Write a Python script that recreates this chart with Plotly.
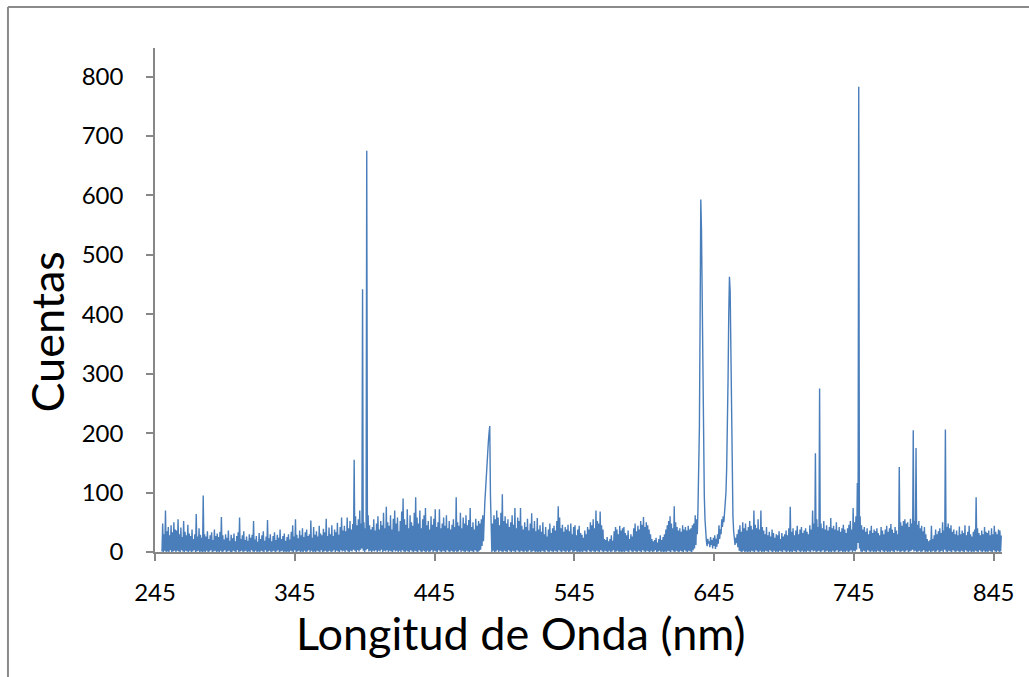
import plotly.graph_objects as go

# ---------------- data ----------------
wl_start = 250.0      # first wavelength sample (nm)
wl_step = 0.5         # sample spacing (nm)

# counts, two samples per nm, 10 nm per row
counts = [
    1,48, 0,30, 2,70, 0,35, 1,42, 0,28, 3,45, 0,33, 1,50, 2,38,          # 250
    0,36, 2,55, 1,30, 0,41, 3,25, 1,52, 0,34, 2,28, 1,46, 0,31,          # 260
    2,27, 0,38, 1,22, 3,30, 0,64, 1,26, 2,40, 0,29, 1,24, 0,95,          # 270
    1,30, 0,26, 2,35, 0,22, 1,28, 3,33, 0,20, 1,38, 2,27, 0,31,          # 280
    1,25, 0,34, 2,59, 0,28, 1,21, 3,30, 0,24, 1,36, 2,19, 0,29,          # 290
    0,23, 2,31, 1,18, 0,27, 3,33, 0,58, 1,22, 2,28, 0,35, 1,20,          # 300
    2,26, 0,19, 1,30, 0,24, 3,29, 1,52, 0,21, 2,27, 0,17, 1,32,          # 310
    0,22, 2,28, 1,35, 0,19, 3,26, 0,54, 1,23, 2,30, 0,18, 1,27,          # 320
    2,33, 0,20, 1,29, 3,24, 0,38, 1,22, 2,27, 0,31, 1,19, 0,25,          # 330
    1,30, 0,21, 2,34, 1,45, 0,26, 3,55, 0,29, 1,23, 2,36, 0,28,          # 340
    1,40, 0,25, 2,33, 0,38, 1,27, 3,30, 0,53, 2,24, 0,42, 1,29,          # 350
    0,35, 2,26, 1,44, 0,31, 3,28, 0,39, 1,33, 2,56, 0,27, 1,41,          # 360
    2,30, 0,45, 1,27, 3,38, 0,33, 2,49, 1,29, 0,42, 3,58, 1,36,          # 370
    2,44, 0,35, 3,58, 1,40, 0,52, 2,38, 1,47, 4,155, 2,60, 0,45,         # 380
    3,55, 1,70, 4,48, 6,442, 2,50, 0,40, 3,675, 5,62, 1,45, 2,38,        # 390
    0,42, 2,55, 1,36, 3,48, 0,60, 2,38, 1,52, 4,45, 0,66, 2,40,          # 400
    1,76, 3,50, 0,44, 2,62, 1,38, 0,56, 3,70, 1,48, 2,58, 0,35,          # 410
    2,52, 0,68, 3,90, 1,55, 0,46, 2,72, 1,40, 0,62, 3,50, 1,44,          # 420
    0,66, 2,92, 1,58, 0,48, 3,70, 1,40, 0,55, 2,62, 1,74, 0,45,          # 430
    2,52, 0,38, 1,60, 3,46, 0,56, 2,72, 1,42, 0,50, 3,72, 1,40,          # 440
    0,48, 2,58, 1,44, 0,62, 3,40, 1,52, 0,38, 2,46, 1,55, 0,42,          # 450
    2,92, 0,50, 1,44, 3,66, 0,40, 2,58, 1,48, 0,62, 2,45, 1,54,          # 460
    0,74, 2,42, 1,50, 0,38, 3,56, 1,44, 0,52, 2,48, 4,55, 10,62,         # 470
    18,70, 85,104, 130,155, 170,185, 200,212, 95,30, 0,48, 2,62, 0,55, 1,70,  # 480
    3,58, 0,45, 2,66, 1,97, 0,52, 2,60, 1,48, 0,55, 3,42, 1,50,          # 490
    0,62, 2,46, 1,74, 0,40, 3,58, 1,52, 0,74, 2,44, 1,38, 0,50,          # 500
    2,42, 0,56, 1,36, 3,48, 0,65, 1,40, 2,52, 0,35, 1,57, 0,38,          # 510
    1,45, 0,34, 2,50, 1,30, 0,42, 3,26, 1,38, 0,48, 2,32, 1,40,          # 520
    0,44, 2,36, 1,52, 0,77, 3,58, 1,40, 0,46, 2,34, 1,42, 0,38,          # 530
    2,46, 0,35, 1,48, 3,30, 0,42, 1,45, 2,28, 0,38, 1,44, 0,32,          # 540
    1,29, 0,24, 2,36, 1,30, 0,42, 3,38, 1,50, 0,45, 2,55, 1,40,          # 550
    0,70, 2,52, 1,48, 0,68, 3,45, 1,38, 0,22, 2,20, 1,25, 0,18,          # 560
    2,22, 0,28, 1,19, 3,35, 0,42, 1,38, 2,30, 0,44, 1,36, 0,40,          # 570
    1,42, 0,32, 2,28, 1,36, 0,22, 3,30, 1,26, 0,40, 2,48, 1,35,          # 580
    0,44, 2,38, 1,52, 0,46, 3,59, 1,42, 0,50, 2,45, 1,38, 0,30,          # 590
    2,22, 0,18, 1,20, 3,24, 0,16, 1,22, 2,28, 0,20, 1,25, 0,30,          # 600
    1,38, 0,45, 2,52, 1,60, 0,48, 3,40, 1,77, 0,50, 2,42, 1,36,          # 610
    0,40, 2,34, 1,45, 0,38, 3,42, 1,36, 0,44, 2,38, 1,40, 0,45,          # 620
    3,48, 6,62, 12,55, 30,75, 120,210, 390,593, 540,400, 260,160, 95,55, 30,18,  # 630
    10,22, 14,18, 8,25, 12,20, 6,24, 10,28, 5,22, 9,30, 14,45, 22,38,    # 640
    30,55, 42,60, 50,65, 70,100, 140,200, 290,400, 463,440, 330,200, 110,60, 35,20,  # 650
    12,24, 15,30, 8,38, 2,45, 1,34, 0,50, 2,40, 0,48, 1,36, 0,42,        # 660
    1,52, 0,44, 2,38, 1,70, 0,46, 3,40, 1,55, 0,38, 2,70, 0,42,          # 670
    1,36, 0,30, 2,42, 1,28, 0,34, 3,26, 1,38, 0,32, 2,24, 0,30,          # 680
    1,28, 0,35, 2,22, 1,32, 0,26, 3,30, 1,36, 0,28, 2,40, 0,76,          # 690
    1,34, 0,40, 2,28, 1,36, 0,44, 3,30, 1,38, 0,42, 2,32, 0,36,          # 700
    1,40, 0,34, 2,30, 1,45, 0,38, 3,70, 1,48, 2,166, 0,55, 1,42,         # 710
    2,275, 0,48, 1,40, 3,52, 0,38, 1,45, 2,36, 0,42, 1,57, 0,40,         # 720
    2,44, 0,38, 1,50, 3,36, 0,42, 1,34, 2,40, 0,46, 1,38, 0,32,          # 730
    2,40, 0,46, 1,52, 3,38, 0,74, 2,50, 1,60, 4,116, 15,783, 6,60,       # 740
    1,45, 0,38, 2,42, 1,34, 0,40, 3,30, 1,36, 0,44, 2,32, 0,38,          # 750
    1,35, 0,40, 2,32, 1,28, 0,42, 3,36, 1,30, 0,38, 2,44, 0,34,          # 760
    1,40, 0,47, 2,38, 1,32, 0,42, 3,36, 1,30, 2,143, 0,50, 1,44,         # 770
    2,52, 0,55, 1,48, 3,50, 0,42, 1,56, 2,48, 4,205, 1,52, 2,175,        # 780
    0,46, 1,52, 2,40, 0,44, 1,35, 3,42, 0,30, 1,22, 0,18, 2,20,          # 790
    0,44, 1,22, 2,28, 0,38, 1,30, 3,35, 0,40, 1,32, 2,50, 0,36,          # 800
    4,206, 1,42, 0,48, 2,40, 1,45, 0,34, 3,38, 1,30, 0,36, 2,28,         # 810
    1,43, 0,30, 2,36, 1,32, 0,45, 3,28, 1,34, 0,44, 2,30, 0,26,          # 820
    1,34, 0,38, 2,92, 1,40, 0,32, 3,28, 1,36, 0,30, 2,42, 0,34,          # 830
    1,32, 0,36, 2,28, 1,40, 0,30, 3,44, 1,34, 0,30, 2,38, 0,36,          # 840
    1,28,                                                                # 850
]

x_ticks = [245, 345, 445, 545, 645, 745, 845]
y_ticks = [0, 100, 200, 300, 400, 500, 600, 700, 800]
x_title = "Longitud de Onda (nm)"
y_title = "Cuentas"

# ---------------- style ----------------
FONT = "Lato, 'Open Sans', sans-serif"
AXIS_GRAY = "#878787"
LINE_BLUE = "#4A7EBB"

fig = go.Figure()
fig.add_trace(go.Scatter(
    x0=wl_start, dx=wl_step, y=counts,
    mode="lines",
    line=dict(color=LINE_BLUE, width=1.4),
    hoverinfo="skip",
    showlegend=False,
))

axis_common = dict(
    showline=True, linecolor=AXIS_GRAY, linewidth=1.5,
    ticks="outside", ticklen=7, tickwidth=1.5, tickcolor=AXIS_GRAY,
    showgrid=False, zeroline=False,
    tickfont=dict(family=FONT, size=24, color="#000000"),
)

fig.update_layout(
    width=1029, height=677,
    margin=dict(l=155, r=27, t=48, b=125),
    paper_bgcolor="white", plot_bgcolor="white",
    xaxis=dict(range=[245, 851], tickmode="array", tickvals=x_ticks,
               ticktext=[str(v) for v in x_ticks], ticklabelstandoff=11,
               **axis_common),
    yaxis=dict(range=[0, 848], tickmode="array", tickvals=y_ticks,
               ticktext=[str(v) for v in y_ticks], ticklabelstandoff=18,
               **axis_common),
    annotations=[
        dict(text=x_title, xref="paper", yref="paper", x=0.432, y=-0.160,
             xanchor="center", yanchor="middle", showarrow=False,
             font=dict(family=FONT, size=45, color="#000000")),
        dict(text=y_title, xref="paper", yref="paper", x=-0.128, y=0.4365,
             xanchor="center", yanchor="middle", showarrow=False, textangle=-90,
             font=dict(family=FONT, size=45, color="#000000")),
    ],
    shapes=[
        dict(type="line", xref="paper", yref="paper",
             x0=-0.1736, y0=1.0813, x1=-0.1736, y1=-0.3,
             line=dict(color="#8a8a8a", width=2)),
        dict(type="line", xref="paper", yref="paper",
             x0=-0.1736, y0=1.0813, x1=1.1, y1=1.0813,
             line=dict(color="#8a8a8a", width=2)),
    ],
)

fig.write_html("out.html")
